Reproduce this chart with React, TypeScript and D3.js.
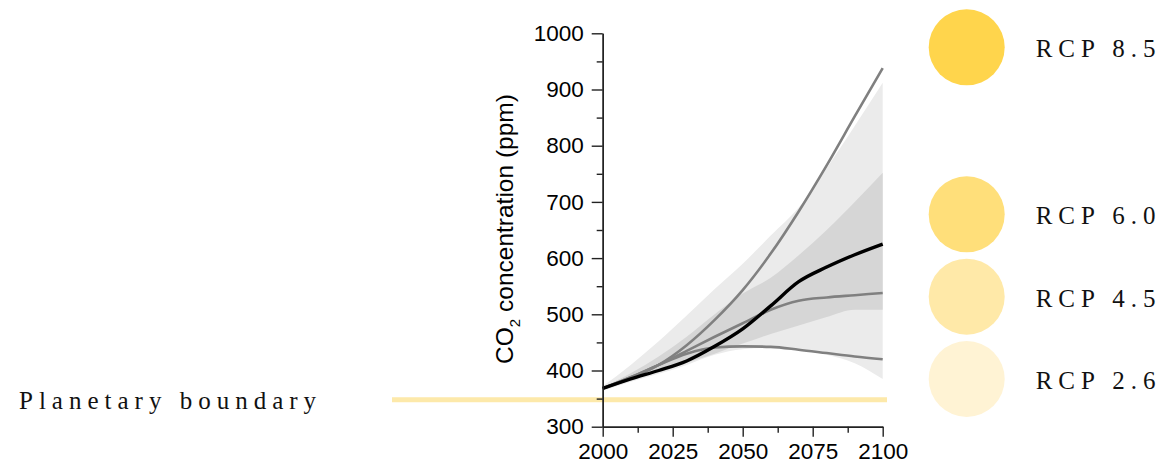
import React, { useEffect, useRef } from "react";
import * as d3 from "d3";

// values (ppm)
const years = [2000, 2010, 2020, 2030, 2040, 2050, 2060, 2070, 2080, 2090, 2100];
const rcp85 = [368, 386, 410, 445, 490, 543, 608, 683, 765, 852, 938];
const rcp60 = [368, 385, 400, 417, 443, 474, 515, 558, 584, 606, 625];
const rcp45 = [368, 388, 410, 435, 460, 484, 508, 524, 530, 534, 538];
const rcp26 = [368, 388, 410, 430, 441, 443, 442, 437, 431, 425, 420];

// shaded ranges
const outerUpper = [372, 410, 452, 498, 545, 590, 640, 690, 760, 835, 912];
const outerLower = [364, 380, 394, 410, 428, 438, 440, 437, 428, 413, 385];
const innerUpper = [370, 395, 425, 460, 500, 537, 565, 605, 650, 700, 752];
const innerLower = [366, 383, 398, 414, 430, 448, 465, 480, 495, 508, 508];

const boundary = 348;

const legendLabels = ["RCP 8.5", "RCP 6.0", "RCP 4.5", "RCP 2.6"];
const legendColors = ["#ffd54c", "#ffdf7a", "#ffe9a8", "#fff3d4"];

const yTicks = [300, 400, 500, 600, 700, 800, 900, 1000];
const xTicks = [2000, 2025, 2050, 2075, 2100];

export default function App() {
  const ref = useRef<SVGSVGElement>(null);

  useEffect(() => {
    const svg = d3.select(ref.current);
    svg.selectAll("*").remove();

    const x = d3.scaleLinear().domain([2000, 2100]).range([602.7, 882.7]);
    const y = d3.scaleLinear().domain([300, 1000]).range([426.7, 33.3]);

    const sans = "'Liberation Sans', Arial, Helvetica, sans-serif";
    const serif = "'Liberation Serif', 'Times New Roman', serif";

    // bands
    const band = (up: number[], lo: number[]) =>
      d3
        .area<number>()
        .x((d, i) => x(years[i]))
        .y0((d, i) => y(lo[i]))
        .y1((d, i) => y(up[i]))
        .curve(d3.curveMonotoneX)(years);

    svg.append("path").attr("d", band(outerUpper, outerLower)).attr("fill", "#ebebeb");
    svg.append("path").attr("d", band(innerUpper, innerLower)).attr("fill", "#d6d6d6");

    // planetary boundary
    svg
      .append("line")
      .attr("x1", 392)
      .attr("x2", 887)
      .attr("y1", y(boundary))
      .attr("y2", y(boundary))
      .attr("stroke", "#fde9aa")
      .attr("stroke-width", 5);

    svg
      .append("text")
      .attr("x", 19)
      .attr("y", 409)
      .attr("font-family", serif)
      .attr("font-size", 25)
      .attr("letter-spacing", 6)
      .attr("fill", "#111")
      .text("Planetary boundary");

    // lines
    const line = (vals: number[]) =>
      d3
        .line<number>()
        .x((d, i) => x(years[i]))
        .y((d) => y(d))
        .curve(d3.curveMonotoneX)(vals);

    [rcp26, rcp45, rcp85].forEach((s) => {
      svg
        .append("path")
        .attr("d", line(s))
        .attr("fill", "none")
        .attr("stroke", "#808080")
        .attr("stroke-width", 2.6);
    });
    svg
      .append("path")
      .attr("d", line(rcp60))
      .attr("fill", "none")
      .attr("stroke", "#000")
      .attr("stroke-width", 3.4);

    // axes
    const yMinor = d3.range(300, 1001, 50).filter((v) => v % 100 !== 0);
    const xMinor = d3.range(2000, 2101, 12.5).filter((v) => v % 25 !== 0);

    const yAxis = svg.append("g").attr("transform", `translate(${x(2000)},0)`);
    yAxis.call(
      d3
        .axisLeft(y)
        .tickValues(yTicks)
        .tickSize(11)
        .tickPadding(8)
        .tickFormat(d3.format("d"))
        .tickSizeOuter(0)
    );
    yAxis.append("g").call(d3.axisLeft(y).tickValues(yMinor).tickSize(6).tickFormat(() => "").tickSizeOuter(0));

    const xAxis = svg.append("g").attr("transform", `translate(0,${y(300)})`);
    xAxis.call(
      d3
        .axisBottom(x)
        .tickValues(xTicks)
        .tickSize(10)
        .tickPadding(6)
        .tickFormat(d3.format("d"))
        .tickSizeOuter(0)
    );
    xAxis.append("g").call(d3.axisBottom(x).tickValues(xMinor).tickSize(6).tickFormat(() => "").tickSizeOuter(0));

    svg.selectAll(".domain").attr("stroke", "#222").attr("stroke-width", 1.4);
    svg.selectAll(".tick line").attr("stroke", "#222").attr("stroke-width", 1.4);
    svg
      .selectAll(".tick text")
      .attr("font-family", sans)
      .attr("font-size", 22.5)
      .attr("fill", "#000");

    // y label
    const yl = svg
      .append("text")
      .attr("transform", "translate(513,229) rotate(-90)")
      .attr("text-anchor", "middle")
      .attr("font-family", sans)
      .attr("font-size", 24.5)
      .attr("fill", "#000");
    yl.append("tspan").text("CO");
    yl.append("tspan").attr("font-size", 15).attr("dy", 7).text("2");
    yl.append("tspan").attr("dy", -7).text(" concentration (ppm)");

    // legend
    const legendY = [47.3, 214.3, 296.7, 379];
    const lg = svg
      .selectAll("g.legend")
      .data(legendLabels)
      .enter()
      .append("g")
      .attr("class", "legend")
      .attr("transform", (d, i) => `translate(966.7,${legendY[i]})`);
    lg.append("circle")
      .attr("r", 38)
      .attr("fill", (d, i) => legendColors[i]);
    lg.append("text")
      .attr("x", 69)
      .attr("y", 10)
      .attr("font-family", serif)
      .attr("font-size", 25)
      .attr("letter-spacing", 6)
      .attr("fill", "#111")
      .text((d) => d);
  }, []);

  return (
    <svg
      ref={ref}
      width={1164}
      height={466}
      style={{ position: "absolute", left: 0, top: 0, background: "#fff" }}
    />
  );
}
